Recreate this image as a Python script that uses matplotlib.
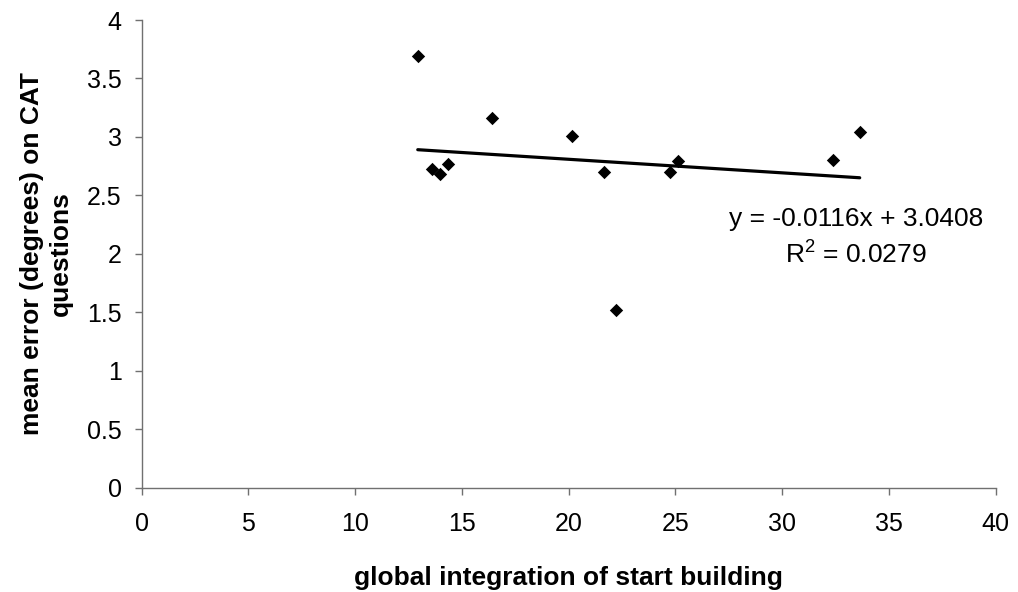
import numpy as np
import matplotlib
matplotlib.use("Agg")
import matplotlib.pyplot as plt

plt.rcParams["font.family"] = ["Liberation Sans", "DejaVu Sans"]
plt.rcParams["mathtext.default"] = "regular"

# data
integration = [12.93, 13.58, 13.97, 14.33, 16.39, 20.14, 21.64, 22.2, 24.73, 25.1, 32.39, 33.63]
mean_error = [3.695, 2.724, 2.683, 2.772, 3.165, 3.011, 2.703, 1.52, 2.703, 2.792, 2.803, 3.045]

slope = -0.0116
intercept = 3.0408
r_squared = 0.0279

x_ticks = [0, 5, 10, 15, 20, 25, 30, 35, 40]
y_ticks = [0, 0.5, 1, 1.5, 2, 2.5, 3, 3.5, 4]
y_tick_labels = ["0", "0.5", "1", "1.5", "2", "2.5", "3", "3.5", "4"]

fig = plt.figure(figsize=(10.18, 5.92), dpi=100)
ax = fig.add_axes([0.1392, 0.1762, 0.8389, 0.79])

ax.scatter(integration, mean_error, marker="D", s=6.8 ** 2, color="black", zorder=3, linewidths=0)

# linear trend line over the data range
x_fit = np.array([min(integration), max(integration)])
ax.plot(x_fit, slope * x_fit + intercept, color="black", linewidth=2.3, solid_capstyle="round", zorder=2)

ax.set_xlim(0, 40)
ax.set_ylim(0, 4)
ax.set_xticks(x_ticks)
ax.set_yticks(y_ticks)
ax.set_yticklabels(y_tick_labels)

for side in ["top", "right"]:
    ax.spines[side].set_visible(False)
for side in ["left", "bottom"]:
    ax.spines[side].set_color("#707070")
    ax.spines[side].set_linewidth(1.0)

ax.tick_params(direction="out", length=5.3, width=1.0, color="#707070", labelsize=18)
ax.tick_params(axis="x", pad=12)
ax.tick_params(axis="y", pad=9)

ax.set_xlabel("global integration of start building", fontsize=19, fontweight="bold", labelpad=22)
ax.set_ylabel("mean error (degrees) on CAT\nquestions", fontsize=19, fontweight="bold", labelpad=10,
              linespacing=1.25)

ax.text(0.8365, 0.5596, f"y = {slope:.4f}x + {intercept:.4f}", transform=ax.transAxes,
        ha="center", va="baseline", fontsize=19)
ax.text(0.8365, 0.4798, f"R$^2$ = {r_squared:.4f}", transform=ax.transAxes,
        ha="center", va="baseline", fontsize=19)

fig.savefig("out.png", dpi=100)
